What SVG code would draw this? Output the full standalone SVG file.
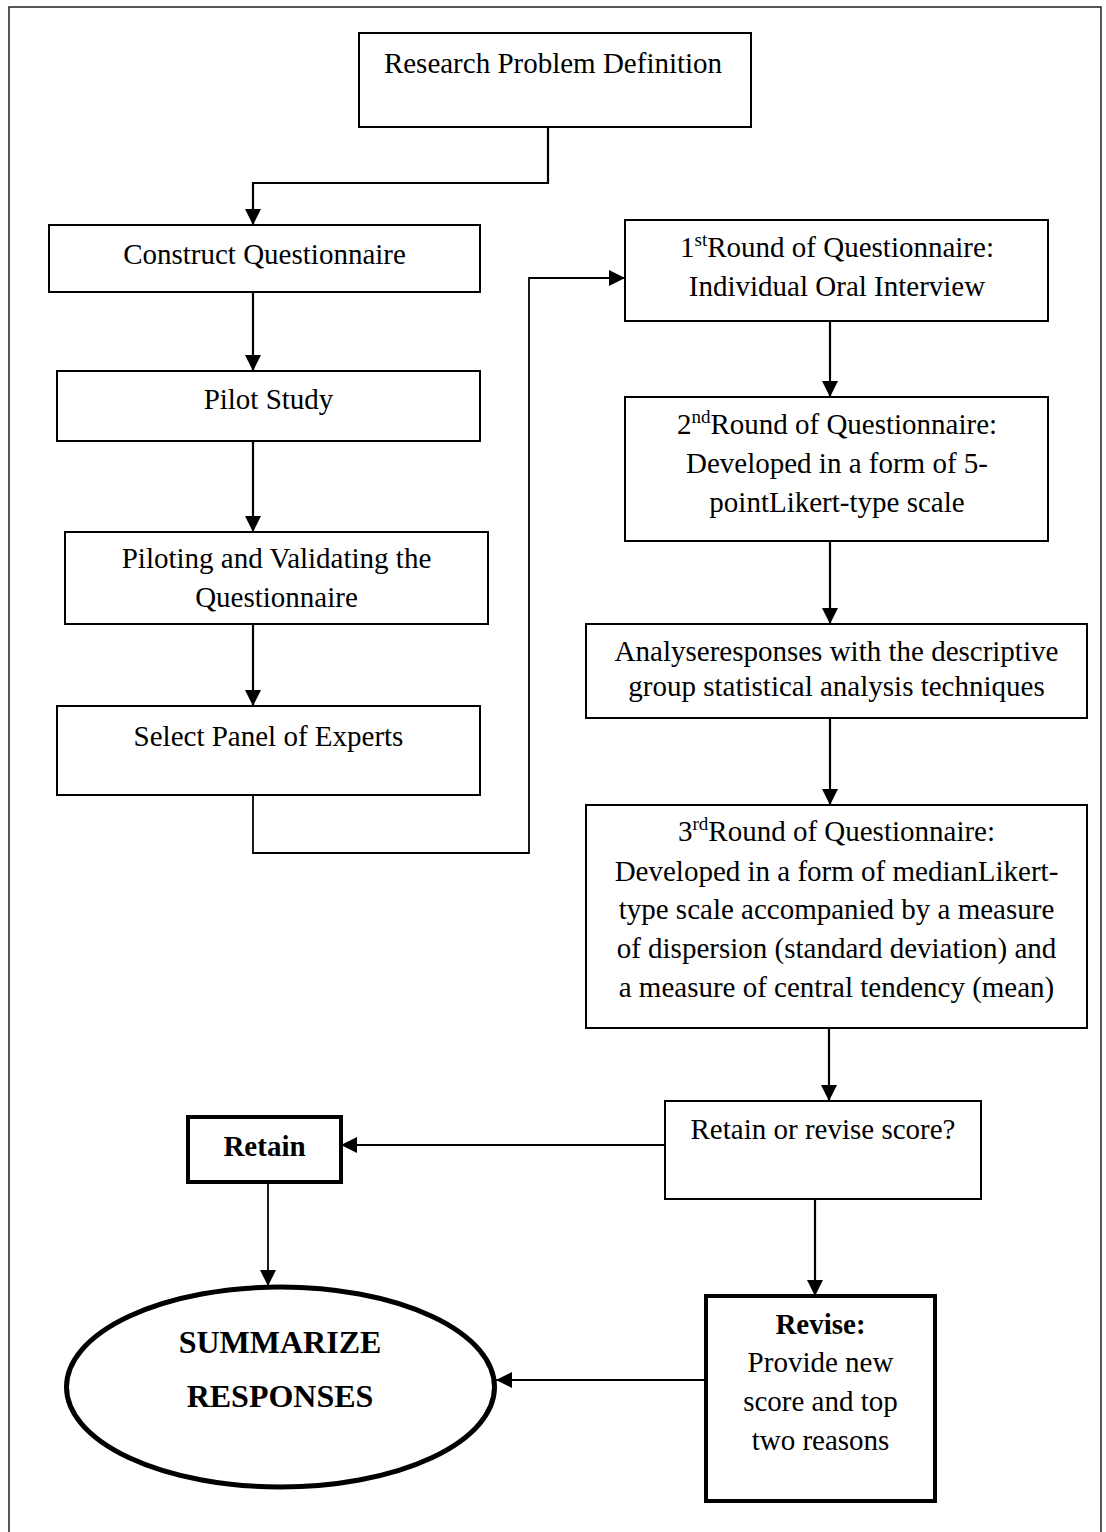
<svg xmlns="http://www.w3.org/2000/svg" width="1106" height="1532" viewBox="0 0 1106 1532">
<style>
  .box { fill: #fff; stroke: #000; stroke-width: 2; }
  .bold-box { fill: #fff; stroke: #000; stroke-width: 4; }
  .t { font-family: "Liberation Serif", "Times New Roman", serif; font-size: 29px; fill: #000; text-anchor: middle; }
  .b { font-weight: bold; }
  .big { font-size: 32px; }
  .sup { font-size: 19px; }
  .conn { fill: none; stroke: #000; stroke-width: 2.2; }
  .thin { stroke-width: 1.8; }
</style>
<defs>
  <marker id="arr" markerUnits="userSpaceOnUse" markerWidth="16" markerHeight="16" viewBox="0 0 14 14" refX="14" refY="7" orient="auto">
    <path d="M0,0 L14,7 L0,14 Z" fill="#000"/>
  </marker>
</defs>
<rect x="0" y="0" width="1106" height="1532" fill="#fff"/>
<rect id="frame" x="9" y="7" width="1092" height="1540" fill="none" stroke="#222" stroke-width="1.5"/>

<g id="connectors">
  <path class="conn" d="M548,127 V183 H253 V225" marker-end="url(#arr)"/>
  <path class="conn" d="M253,292 V371" marker-end="url(#arr)"/>
  <path class="conn" d="M253,441 V532" marker-end="url(#arr)"/>
  <path class="conn" d="M253,620 V706" marker-end="url(#arr)"/>
  <path class="conn thin" d="M253,793 V853 H529 V278 H625" marker-end="url(#arr)"/>
  <path class="conn" d="M830,321 V397" marker-end="url(#arr)"/>
  <path class="conn" d="M830,535 V624" marker-end="url(#arr)"/>
  <path class="conn" d="M830,718 V805" marker-end="url(#arr)"/>
  <path class="conn" d="M829,1025 V1101" marker-end="url(#arr)"/>
  <path class="conn thin" d="M665,1145 H341" marker-end="url(#arr)"/>
  <path class="conn" d="M815,1199 V1296" marker-end="url(#arr)"/>
  <path class="conn thin" d="M268,1182 V1286" marker-end="url(#arr)"/>
  <path class="conn thin" d="M706,1380 H496" marker-end="url(#arr)"/>
</g>

<g id="research-problem">
  <rect class="box" x="359" y="33" width="392" height="94"/>
  <text class="t" x="553" y="73">Research Problem Definition</text>
</g>

<g id="construct">
  <rect class="box" x="49" y="225" width="431" height="67"/>
  <text class="t" x="264.5" y="264">Construct Questionnaire</text>
</g>

<g id="pilot">
  <rect class="box" x="57" y="371" width="423" height="70"/>
  <text class="t" x="268.5" y="409">Pilot Study</text>
</g>

<g id="piloting">
  <rect class="box" x="65" y="532" width="423" height="92"/>
  <text class="t" x="276.5" y="568">Piloting and Validating the</text>
  <text class="t" x="276.5" y="607">Questionnaire</text>
</g>

<g id="select-panel">
  <rect class="box" x="57" y="706" width="423" height="89"/>
  <text class="t" x="268.5" y="746">Select Panel of Experts</text>
</g>

<g id="round1">
  <rect class="box" x="625" y="220" width="423" height="101"/>
  <text class="t" x="837" y="257">1<tspan class="sup" dy="-11">st</tspan><tspan dy="11">Round of Questionnaire:</tspan></text>
  <text class="t" x="837" y="296">Individual Oral Interview</text>
</g>

<g id="round2">
  <rect class="box" x="625" y="397" width="423" height="144"/>
  <text class="t" x="837" y="434">2<tspan class="sup" dy="-11">nd</tspan><tspan dy="11">Round of Questionnaire:</tspan></text>
  <text class="t" x="837" y="473">Developed in a form of 5-</text>
  <text class="t" x="837" y="512">pointLikert-type scale</text>
</g>

<g id="analyse">
  <rect class="box" x="586" y="624" width="501" height="94"/>
  <text class="t" x="836.5" y="661">Analyseresponses with the descriptive</text>
  <text class="t" x="836.5" y="696">group statistical analysis techniques</text>
</g>

<g id="round3">
  <rect class="box" x="586" y="805" width="501" height="223"/>
  <text class="t" x="836.5" y="841">3<tspan class="sup" dy="-11">rd</tspan><tspan dy="11">Round of Questionnaire:</tspan></text>
  <text class="t" x="836.5" y="881">Developed in a form of medianLikert-</text>
  <text class="t" x="836.5" y="919">type scale accompanied by a measure</text>
  <text class="t" x="836.5" y="958">of dispersion (standard deviation) and</text>
  <text class="t" x="836.5" y="997">a measure of central tendency (mean)</text>
</g>

<g id="retain-or-revise">
  <rect class="box" x="665" y="1101" width="316" height="98"/>
  <text class="t" x="823" y="1139">Retain or revise score?</text>
</g>

<g id="retain">
  <rect class="bold-box" x="188" y="1117" width="153" height="65"/>
  <text class="t b" x="264.5" y="1156">Retain</text>
</g>

<g id="revise">
  <rect class="bold-box" x="706" y="1296" width="229" height="205"/>
  <text class="t b" x="820.5" y="1334">Revise:</text>
  <text class="t" x="820.5" y="1372">Provide new</text>
  <text class="t" x="820.5" y="1411">score and top</text>
  <text class="t" x="820.5" y="1450">two reasons</text>
</g>

<g id="summarize">
  <ellipse cx="280.5" cy="1387" rx="214" ry="100" fill="#fff" stroke="#000" stroke-width="5"/>
  <text class="t b big" x="280" y="1353">SUMMARIZE</text>
  <text class="t b big" x="280" y="1407">RESPONSES</text>
</g>
</svg>
